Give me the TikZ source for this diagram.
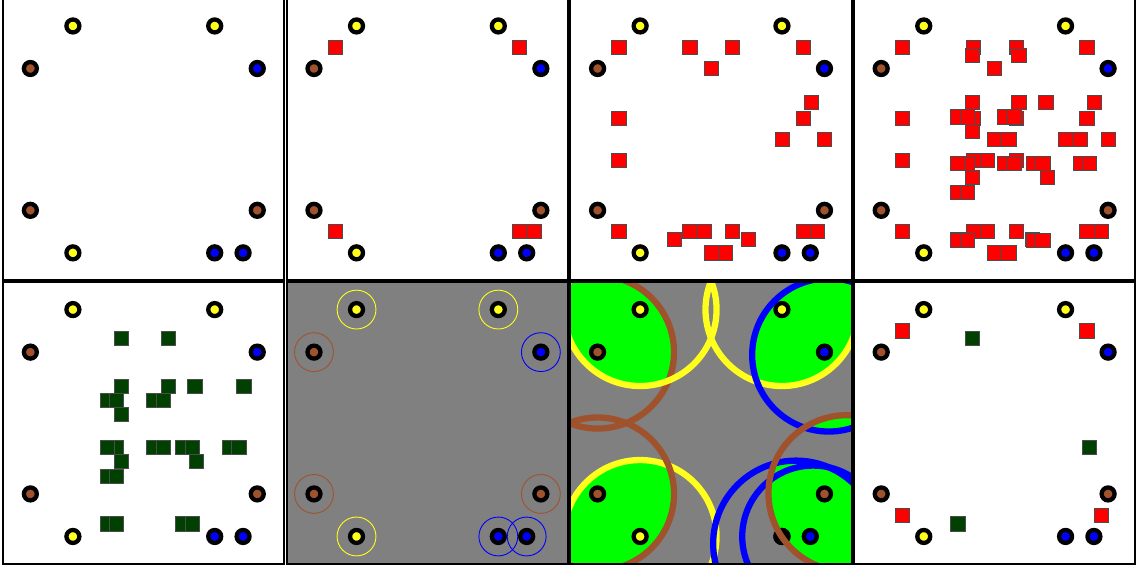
\documentclass[tikz,border=0pt]{standalone}
\usepackage{tikz}
\definecolor{sienna}{RGB}{160,82,45}
\definecolor{leaf}{RGB}{0,64,0}
\definecolor{lime}{RGB}{0,255,0}
\definecolor{lemon}{RGB}{255,255,30}
\begin{document}
\begin{tikzpicture}[
    x=0.5cm, y=-0.5cm,
    agent/.style={draw=black, line width=4.3pt},
    halo/.style={line width=0.9pt},
    ring/.style={line width=6.3pt},
    redsq/.style={draw=black!70, line width=0.6pt, fill=red},
    greensq/.style={draw=black!70, line width=0.6pt, fill=leaf},
    frame/.style={draw=black, line width=2pt}
]
    \useasboundingbox (-0.141,0.169) rectangle (80.25,40.23);
    \fill[white] (-0.141,0.169) rectangle (80.25,40.23);
    \fill[gray] (20,20) rectangle (60,40);

    \begin{scope}[shift={(40,20)}]
        \clip (0,0) rectangle (20,20);
        \foreach \ax/\ay/\ar/\bx/\by/\br in {5/2/5.39/2/5/5.39, 15/2/5.39/18.3/5.2/5.4,
                18.3/5.2/5.4/19.55/14.95/5.5, 2/15/5.39/5/18/5.39,
                19.55/14.95/5.5/16/18.5/5.85, 19.55/14.95/5.5/17.2/18/5.0} {
            \begin{scope}
                \clip (\ax,\ay) circle[radius=\ar];
                \fill[lime] (\bx,\by) circle[radius=\br];
            \end{scope}
        }
    \end{scope}

    \foreach \px/\py in {0/0,20/0,40/0,60/0,0/20,20/20,40/20,60/20} {
        \foreach \x/\y/\c in {5/2/lemon, 15/2/lemon, 5/18/lemon, 2/5/sienna, 2/15/sienna,
                18/15/sienna, 18/5/blue, 15/18/blue, 17/18/blue}
            \draw[agent, fill=\c] (\px+\x,\py+\y) circle[radius=6.5pt];
    }
    \draw[agent, fill=black] (55,38) circle[radius=6.5pt];

    \foreach \x/\y/\c in {5/2/lemon, 15/2/lemon, 5/18/lemon, 2/5/sienna, 2/15/sienna,
            18/15/sienna, 18/5/blue, 15/18/blue, 17/18/blue}
        \draw[halo, draw=\c] (20+\x,20+\y) circle[radius=1.37];

    \begin{scope}[shift={(40,20)}]
        \clip (0,0) rectangle (20,20);
        \foreach \x/\y/\r/\c in {2/5/5.39/sienna, 5/2/5.39/lemon, 15/2/5.39/lemon,
                18.3/5.2/5.4/blue, 5/18/5.39/lemon, 2/15/5.39/sienna,
                16/18.5/5.85/blue, 17.2/18/5.0/blue, 19.55/14.95/5.5/sienna}
            \draw[ring, draw=\c] (\x,\y) circle[radius=\r];
    \end{scope}

    \foreach \x/\y in {3.5/3.5, 16.5/3.5, 3.5/16.5, 16.5/16.5, 17.5/16.5}
        \draw[redsq] (20+\x-0.5,\y-0.5) rectangle ++(1,1);

    \foreach \px in {40,60} {
        \foreach \x/\y in {3.5/3.5, 8.5/3.5, 11.5/3.5, 16.5/3.5, 10/5, 17.05/7.4, 16.5/8.5,
                3.5/8.5, 15/10, 18/10, 3.5/11.5, 3.5/16.5, 7.4/17.07, 8.5/16.5, 9.5/16.5,
                11.5/16.5, 12.65/17.07, 10/18, 11/18, 16.5/16.5, 17.5/16.5}
            \draw[redsq] (\px+\x-0.5,\y-0.5) rectangle ++(1,1);
    }
    \foreach \x/\y in {8.5/8.5, 11.5/8.5, 8.5/11.5, 9.5/11.5, 11.5/11.5, 10/10, 11/10, 16/10}
        \draw[redsq] (60+\x-0.5,\y-0.5) rectangle ++(1,1);

    \foreach \px/\py/\s in {60/0/redsq, 0/20/greensq} {
        \foreach \x/\y in {8.4/4.05, 11.7/4.05, 8.4/7.4, 11.7/7.4, 13.6/7.4, 17.05/7.4,
                7.4/8.4, 8.05/8.4, 8.4/9.4, 10.7/8.4, 11.4/8.4, 8.05/11.7, 7.4/11.7,
                8.4/12.7, 7.4/13.75, 8.05/13.75, 10.7/11.7, 11.4/11.7, 12.7/11.7,
                13.4/11.7, 13.7/12.7, 16.05/11.7, 16.7/11.7, 7.4/17.1, 8.05/17.1,
                12.7/17.1, 13.4/17.1}
            \draw[\s] (\px+\x-0.5,\py+\y-0.5) rectangle ++(1,1);
    }

    \foreach \x/\y in {3.5/3.5, 16.5/3.5, 3.5/16.5, 17.5/16.5}
        \draw[redsq] (60+\x-0.5,20+\y-0.5) rectangle ++(1,1);
    \foreach \x/\y in {8.4/4.05, 16.7/11.7, 7.4/17.1}
        \draw[greensq] (60+\x-0.5,20+\y-0.5) rectangle ++(1,1);

    \foreach \px in {0,20,40,60} {
        \foreach \py in {0,20}
            \draw[frame] (\px+0.08,\py+0.08) rectangle (\px+19.92,\py+19.92);
    }
\end{tikzpicture}
\end{document}
